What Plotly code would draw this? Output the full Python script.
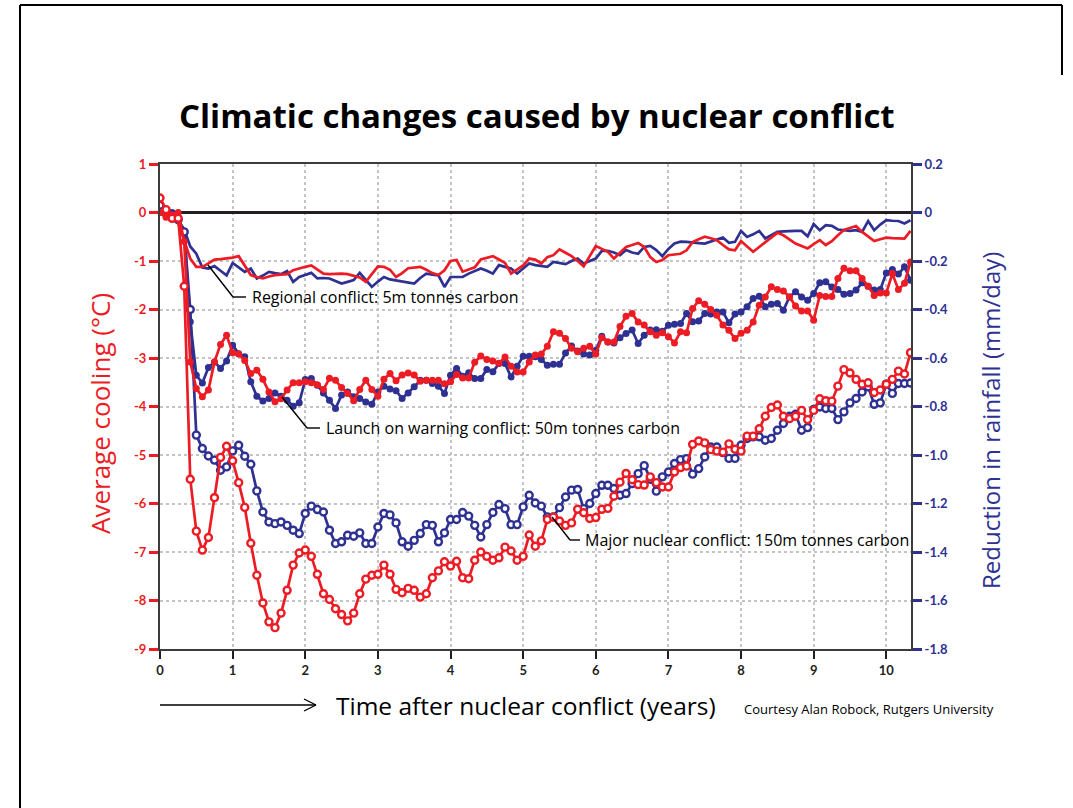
import numpy as np
import plotly.graph_objects as go

# ---- data: monthly values for ten years and four months after the conflict ----
months = np.arange(125)
years = months / 12.0

# average surface cooling (deg C), left axis
regional_temp = [
    0.05, 0.00, -0.05, -0.20, -0.60, -0.95, -1.12, -1.12, -1.05, -0.97,
    -0.96, -0.95, -0.93, -0.90, -1.09, -1.29, -1.33, -1.36, -1.32, -1.29,
    -1.28, -1.27, -1.19, -1.15, -1.12, -1.09, -1.18, -1.26, -1.27, -1.26,
    -1.26, -1.27, -1.30, -1.34, -1.43, -1.27, -1.11, -1.12, -1.18, -1.33,
    -1.25, -1.15, -1.13, -1.12, -1.18, -1.25, -1.29, -1.19, -1.00, -0.98,
    -1.22, -1.18, -1.13, -0.97, -0.93, -0.90, -0.97, -1.04, -1.26, -1.17,
    -1.09, -0.95, -0.97, -1.05, -0.92, -0.88, -0.76, -0.83, -0.90, -1.00,
    -1.11, -0.90, -0.69, -0.75, -0.81, -0.95, -0.83, -0.71, -0.67, -0.63,
    -0.71, -0.92, -1.02, -0.98, -0.88, -0.86, -0.85, -0.78, -0.61, -0.55,
    -0.50, -0.53, -0.57, -0.67, -0.76, -0.78, -0.59, -0.70, -0.81, -0.71,
    -0.61, -0.51, -0.42, -0.47, -0.55, -0.64, -0.69, -0.74, -0.65, -0.57,
    -0.67, -0.59, -0.47, -0.36, -0.32, -0.28, -0.40, -0.50, -0.59, -0.55,
    -0.52, -0.53, -0.54, -0.54, -0.38,
]
warning_temp = [
    0.00, -0.10, -0.05, 0.00, -0.60, -3.08, -3.63, -3.80, -3.66, -3.08,
    -2.72, -2.53, -2.89, -2.92, -3.05, -3.32, -3.25, -3.44, -3.70, -3.90,
    -3.84, -3.66, -3.51, -3.51, -3.49, -3.51, -3.55, -3.65, -3.42, -3.46,
    -3.61, -3.73, -3.88, -3.65, -3.46, -3.65, -3.79, -3.44, -3.32, -3.47,
    -3.35, -3.31, -3.35, -3.48, -3.46, -3.46, -3.46, -3.53, -3.49, -3.34,
    -3.41, -3.41, -3.09, -2.96, -3.03, -3.06, -3.11, -2.98, -3.17, -3.29,
    -3.29, -3.08, -2.94, -2.92, -2.76, -2.46, -2.49, -2.60, -2.80, -2.87,
    -2.80, -2.76, -2.92, -2.58, -2.67, -2.67, -2.35, -2.14, -2.08, -2.26,
    -2.32, -2.46, -2.53, -2.48, -2.56, -2.69, -2.46, -2.48, -1.98, -1.82,
    -1.89, -2.00, -2.12, -2.32, -2.43, -2.60, -2.49, -2.43, -2.26, -1.91,
    -1.74, -1.53, -1.59, -1.62, -1.74, -1.93, -2.03, -2.03, -2.22, -1.71,
    -1.73, -1.73, -1.36, -1.15, -1.20, -1.20, -1.36, -1.52, -1.71, -1.66,
    -1.66, -1.26, -1.59, -1.46, -1.02,
]
major_temp = [
    0.30, 0.06, -0.12, -0.12, -1.52, -5.50, -6.57, -6.96, -6.70, -5.88,
    -5.05, -4.82, -5.12, -5.57, -6.08, -6.82, -7.48, -8.05, -8.44, -8.56,
    -8.26, -7.79, -7.27, -7.02, -6.96, -7.09, -7.46, -7.86, -7.98, -8.17,
    -8.29, -8.42, -8.26, -7.86, -7.56, -7.48, -7.46, -7.27, -7.46, -7.77,
    -7.84, -7.75, -7.79, -7.93, -7.86, -7.53, -7.39, -7.20, -7.29, -7.19,
    -7.53, -7.55, -7.17, -7.00, -7.09, -7.17, -7.12, -6.90, -6.98, -7.17,
    -7.09, -6.65, -6.88, -6.77, -6.33, -6.28, -6.36, -6.45, -6.40, -6.12,
    -6.19, -6.31, -6.29, -6.12, -6.10, -5.85, -5.56, -5.38, -5.51, -5.61,
    -5.62, -5.45, -5.57, -5.66, -5.66, -5.35, -5.26, -5.23, -4.78, -4.71,
    -4.75, -4.89, -4.92, -4.94, -4.77, -4.88, -4.92, -4.61, -4.61, -4.46,
    -4.20, -4.02, -3.97, -4.20, -4.25, -4.20, -4.08, -4.27, -4.08, -3.84,
    -3.88, -3.89, -3.58, -3.24, -3.31, -3.44, -3.54, -3.51, -3.71, -3.66,
    -3.54, -3.44, -3.27, -3.33, -2.89,
]

# reduction in rainfall (mm/day), right axis
regional_rain = [
    0.03, 0.01, 0.00, -0.03, -0.07, -0.14, -0.17, -0.227, -0.231, -0.221,
    -0.24, -0.259, -0.208, -0.227, -0.245, -0.231, -0.272, -0.26, -0.245, -0.25,
    -0.254, -0.241, -0.286, -0.266, -0.258, -0.249, -0.272, -0.27, -0.272, -0.283,
    -0.293, -0.286, -0.279, -0.249, -0.28, -0.307, -0.285, -0.266, -0.276, -0.28,
    -0.286, -0.29, -0.293, -0.27, -0.252, -0.256, -0.259, -0.307, -0.266, -0.266,
    -0.266, -0.252, -0.24, -0.231, -0.24, -0.252, -0.217, -0.224, -0.231, -0.252,
    -0.23, -0.21, -0.217, -0.22, -0.224, -0.204, -0.208, -0.213, -0.20, -0.19,
    -0.21, -0.20, -0.19, -0.158, -0.158, -0.165, -0.176, -0.155, -0.165, -0.17,
    -0.142, -0.138, -0.155, -0.18, -0.15, -0.128, -0.12, -0.121, -0.125, -0.126,
    -0.128, -0.12, -0.11, -0.103, -0.125, -0.121, -0.076, -0.101, -0.09, -0.076,
    -0.107, -0.095, -0.08, -0.078, -0.076, -0.076, -0.076, -0.098, -0.048, -0.073,
    -0.052, -0.055, -0.07, -0.073, -0.076, -0.073, -0.08, -0.035, -0.073, -0.05,
    -0.032, -0.034, -0.035, -0.045, -0.032,
]
warning_rain = [
    0.00, -0.01, 0.00, -0.03, -0.08, -0.45, -0.671, -0.703, -0.639, -0.616,
    -0.643, -0.612, -0.547, -0.582, -0.595, -0.698, -0.758, -0.777, -0.767, -0.744,
    -0.758, -0.774, -0.799, -0.785, -0.689, -0.685, -0.712, -0.744, -0.774, -0.808,
    -0.753, -0.740, -0.760, -0.767, -0.781, -0.791, -0.740, -0.716, -0.728, -0.735,
    -0.767, -0.744, -0.719, -0.692, -0.692, -0.705, -0.716, -0.746, -0.671, -0.643,
    -0.675, -0.661, -0.685, -0.685, -0.647, -0.657, -0.623, -0.623, -0.678, -0.634,
    -0.593, -0.593, -0.595, -0.606, -0.630, -0.626, -0.626, -0.579, -0.551, -0.571,
    -0.584, -0.588, -0.568, -0.510, -0.534, -0.538, -0.516, -0.499, -0.485, -0.540,
    -0.506, -0.485, -0.483, -0.490, -0.465, -0.461, -0.458, -0.417, -0.451, -0.447,
    -0.417, -0.419, -0.410, -0.410, -0.455, -0.419, -0.410, -0.389, -0.355, -0.345,
    -0.389, -0.378, -0.375, -0.403, -0.348, -0.327, -0.348, -0.362, -0.334, -0.290,
    -0.286, -0.307, -0.318, -0.337, -0.334, -0.320, -0.290, -0.304, -0.320, -0.318,
    -0.249, -0.235, -0.254, -0.224, -0.279,
]
major_rain = [
    0.03, 0.00, -0.01, -0.03, -0.08, -0.40, -0.918, -0.973, -1.004, -1.021,
    -1.063, -1.049, -0.983, -0.960, -1.005, -1.038, -1.148, -1.235, -1.276, -1.283,
    -1.276, -1.290, -1.310, -1.324, -1.241, -1.211, -1.225, -1.235, -1.310, -1.365,
    -1.358, -1.331, -1.335, -1.321, -1.365, -1.365, -1.297, -1.241, -1.247, -1.280,
    -1.358, -1.376, -1.352, -1.324, -1.287, -1.290, -1.358, -1.321, -1.266, -1.266,
    -1.237, -1.252, -1.290, -1.338, -1.287, -1.237, -1.204, -1.221, -1.287, -1.287,
    -1.214, -1.166, -1.198, -1.211, -1.255, -1.255, -1.217, -1.173, -1.145, -1.142,
    -1.221, -1.200, -1.159, -1.125, -1.125, -1.138, -1.166, -1.159, -1.118, -1.077,
    -1.044, -1.100, -1.149, -1.090, -1.070, -1.035, -1.019, -1.015, -1.079, -1.056,
    -1.008, -0.967, -0.967, -0.990, -1.014, -1.014, -0.960, -0.932, -0.925, -0.925,
    -0.939, -0.932, -0.898, -0.870, -0.840, -0.832, -0.898, -0.887, -0.812, -0.802,
    -0.808, -0.808, -0.854, -0.822, -0.785, -0.767, -0.740, -0.719, -0.791, -0.785,
    -0.708, -0.746, -0.705, -0.705, -0.703,
]

# axis ticks
x_ticks = list(range(0, 11))
temp_ticks = list(range(1, -10, -1))
rain_ticks = [0.2, 0.0, -0.2, -0.4, -0.6, -0.8, -1.0, -1.2, -1.4, -1.6, -1.8]
rain_tick_text = ["0.2", "0", "-0.2", "-0.4", "-0.6", "-0.8", "-1.0",
                  "-1.2", "-1.4", "-1.6", "-1.8"]

RED = "#ED1C24"
BLUE = "#2E3192"
INK = "#231F20"
FONT = "Open Sans"

# page geometry (pixels) and helpers to place overlay items in paper space
W, H = 1073, 808
ML, MR, MT, MB = 160, 162, 164, 159
PW, PH = W - ML - MR, H - MT - MB


def px(x):
    return (x - ML) / PW


def py(y):
    return (H - MB - y) / PH


fig = go.Figure()

# rainfall series on the primary (right-hand) axis, drawn first
fig.add_trace(go.Scatter(x=years, y=regional_rain, mode="lines", yaxis="y",
                         line=dict(color=BLUE, width=2.7)))
fig.add_trace(go.Scatter(x=years, y=warning_rain, mode="lines+markers", yaxis="y",
                         line=dict(color=BLUE, width=2.7),
                         marker=dict(size=7, color=BLUE)))
fig.add_trace(go.Scatter(x=years, y=major_rain, mode="lines+markers", yaxis="y",
                         line=dict(color=BLUE, width=2.7),
                         marker=dict(size=7, color="white",
                                     line=dict(color=BLUE, width=2.4))))

# temperature series on the overlaying (left-hand) axis, drawn on top
fig.add_trace(go.Scatter(x=years, y=regional_temp, mode="lines", yaxis="y2",
                         line=dict(color=RED, width=2.7)))
fig.add_trace(go.Scatter(x=years, y=warning_temp, mode="lines+markers", yaxis="y2",
                         line=dict(color=RED, width=2.7),
                         marker=dict(size=7, color=RED)))
fig.add_trace(go.Scatter(x=years, y=major_temp, mode="lines+markers", yaxis="y2",
                         line=dict(color=RED, width=2.7),
                         marker=dict(size=7, color="white",
                                     line=dict(color=RED, width=2.4))))

grid = dict(showgrid=True, gridcolor="#c4c4c4", gridwidth=1.5, griddash="dot")
TICKFONT = "Lato"

fig.update_layout(
    width=W, height=H, autosize=False,
    margin=dict(l=ML, r=MR, t=MT, b=MB, pad=0),
    paper_bgcolor="white", plot_bgcolor="white",
    showlegend=False,
    font=dict(family=FONT, color=INK),
    xaxis=dict(range=[0, 10.34], tickvals=x_ticks, ticks="outside", ticklen=8,
               tickwidth=2, tickcolor=INK, showline=True, linecolor="#3c3c3c",
               linewidth=2, mirror=True, zeroline=False,
               tickfont=dict(family=TICKFONT, size=13, color=INK, weight="bold"),
               **grid),
    yaxis=dict(range=[-1.8, 0.2], side="right", tickvals=rain_ticks,
               ticktext=rain_tick_text, ticks="outside", ticklen=9, tickwidth=2.5,
               tickcolor=BLUE, showline=True, linecolor="#3c3c3c", linewidth=2,
               showgrid=False, zeroline=False,
               tickfont=dict(family=TICKFONT, size=13, color=BLUE, weight="bold")),
    yaxis2=dict(range=[-9, 1], overlaying="y", side="left", tickvals=temp_ticks,
                ticktext=[str(v) for v in temp_ticks], ticks="outside", ticklen=9,
                tickwidth=2.5, tickcolor=RED, showline=True, linecolor="#3c3c3c",
                linewidth=2, zeroline=True, zerolinecolor=INK, zerolinewidth=3,
                tickfont=dict(family=TICKFONT, size=13, color=RED, weight="bold"),
                **grid),
)

annotations = [
    dict(text="Climatic changes caused by nuclear conflict", x=px(537), y=py(116),
         font=dict(size=33, color="black", weight="bold")),
    dict(text="Average cooling (°C)", x=px(100), y=py(414), textangle=-90,
         font=dict(size=26, color=RED)),
    dict(text="Reduction in rainfall (mm/day)", x=px(990), y=py(421), textangle=-90,
         font=dict(size=24, color=BLUE)),
    dict(text="Time after nuclear conflict (years)", x=px(526), y=py(705),
         font=dict(size=24.5, color="black")),
    dict(text="Courtesy Alan Robock, Rutgers University", x=px(869), y=py(709),
         font=dict(size=13, color="black")),
    dict(text="Regional conflict: 5m tonnes carbon", x=px(250), y=py(297),
         xanchor="left", font=dict(size=16, color="black")),
    dict(text="Launch on warning conflict: 50m tonnes carbon", x=px(324), y=py(428),
         xanchor="left", font=dict(size=16, color="black")),
    dict(text="Major nuclear conflict: 150m tonnes carbon", x=px(583), y=py(540),
         xanchor="left", font=dict(size=16, color="black")),
]
for a in annotations:
    a.setdefault("xanchor", "center")
    a.update(xref="paper", yref="paper", showarrow=False, yanchor="middle")
fig.update_layout(annotations=annotations)


def seg(x0, y0, x1, y1, width=1.4, color="black"):
    return dict(type="line", xref="paper", yref="paper",
                x0=px(x0), y0=py(y0), x1=px(x1), y1=py(y1),
                line=dict(color=color, width=width), layer="above")


shapes = [
    # leader lines from the series to their labels
    seg(208, 265, 233, 297), seg(233, 297, 246, 297),
    seg(282, 397, 307, 428), seg(307, 428, 320, 428),
    seg(552, 517, 570, 540), seg(570, 540, 580, 540),
    # time arrow under the x axis
    seg(160, 705, 316, 705, 1.3), seg(304, 699, 316, 705, 1.3), seg(304, 711, 316, 705, 1.3),
    # page frame
    seg(20, 5, 1062, 5, 2), seg(20, 5, 20, 808, 2), seg(1062, 5, 1062, 75, 2),
]
fig.update_layout(shapes=shapes)

fig.write_html("out.html")
